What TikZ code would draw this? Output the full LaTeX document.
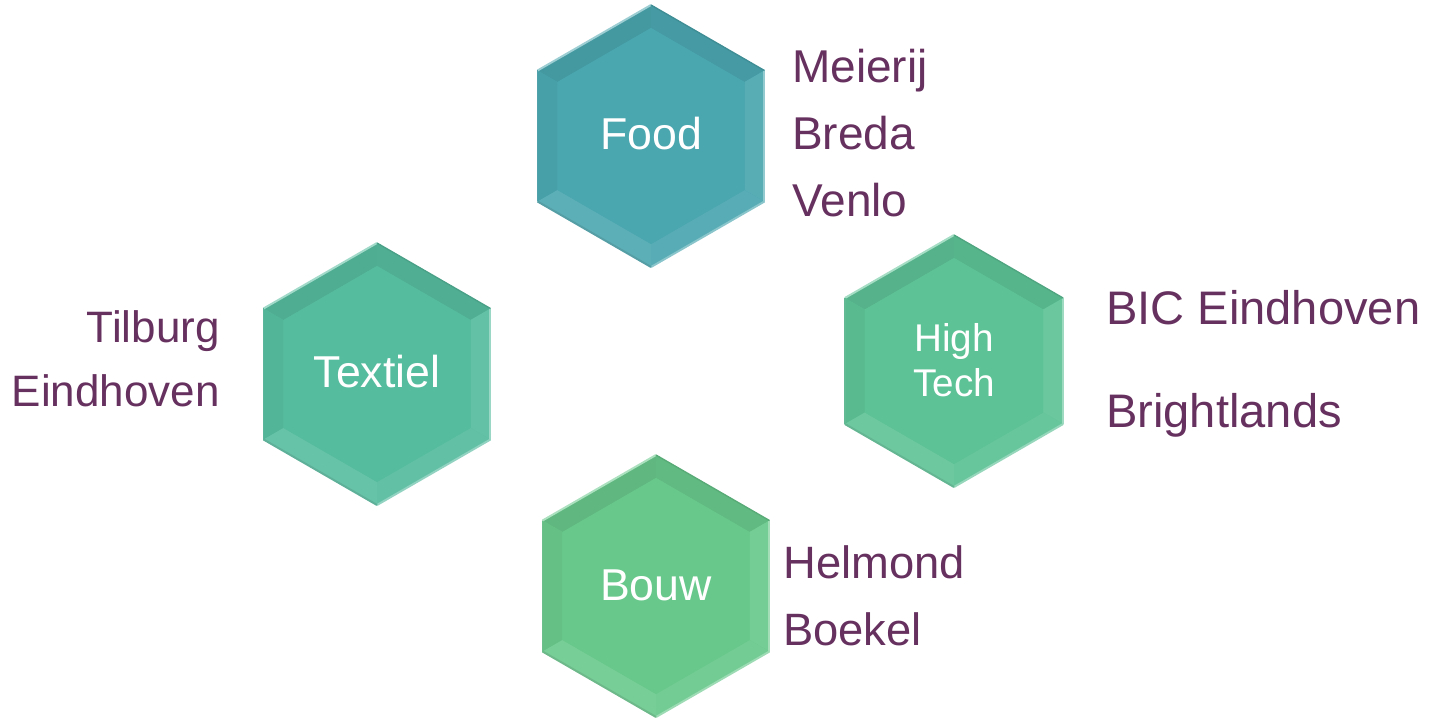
\documentclass[tikz,border=0pt]{standalone}
\usepackage{fontspec}
\setmainfont{Liberation Sans}
\definecolor{lab}{HTML}{66305F}
\definecolor{cfood}{HTML}{4AA6AF}
\definecolor{ctex}{HTML}{56BC9E}
\definecolor{chigh}{HTML}{5DC296}
\definecolor{cbouw}{HTML}{68C88B}
\tikzset{
  place/.style={anchor=base west,inner sep=0pt,text=lab,font=\fontsize{33}{40}\selectfont},
  placer/.style={place,anchor=base east},
  hexlabel/.style={anchor=base,inner sep=0pt,text=white,font=\fontsize{33.5}{40}\selectfont},
}
\newcommand\hexcell[4]{% x, y, R, colour
  \begin{scope}[shift={(#1,#2)}]
    \pgfmathsetmacro\ri{#3-23}
    \fill[#4] (90:#3)--(150:#3)--(210:#3)--(270:#3)--(330:#3)--(30:#3)--cycle;
    \fill[#4!92!black] (90:#3)--(150:#3)--(150:\ri)--(90:\ri)--cycle;
    \fill[#4!93!black] (30:#3)--(90:#3)--(90:\ri)--(30:\ri)--cycle;
    \fill[#4!96!black] (150:#3)--(210:#3)--(210:\ri)--(150:\ri)--cycle;
    \fill[#4!92!white] (330:#3)--(30:#3)--(30:\ri)--(330:\ri)--cycle;
    \fill[#4!90!white] (210:#3)--(270:#3)--(270:\ri)--(210:\ri)--cycle;
    \fill[#4!93!white] (270:#3)--(330:#3)--(330:\ri)--(270:\ri)--cycle;
    \fill[#4] (90:\ri)--(150:\ri)--(210:\ri)--(270:\ri)--(330:\ri)--(30:\ri)--cycle;
    \draw[#4!55!white,line width=1.5] (90:#3)--(150:#3);
    \draw[#4!60!white,line width=1.5] (330:#3)--(30:#3);
    \draw[#4!65!white,line width=1.5] (270:#3)--(330:#3);
    \draw[#4!80!gray,line width=1.5] (210:#3)--(270:#3);
    \draw[#4!85!black,line width=1] (30:#3)--(90:#3);
    \draw[#4!88!gray,line width=1] (150:#3)--(210:#3);
  \end{scope}
}
\begin{document}
\begin{tikzpicture}[x=0.75pt,y=0.75pt]
\useasboundingbox (0,0) rectangle (1437,718);
% hexagons
\hexcell{651}{582}{131}{cfood}
\hexcell{377}{344}{131}{ctex}
\hexcell{954}{357}{126}{chigh}
\hexcell{656}{132}{131}{cbouw}
\node[hexlabel] (food) at (651,568) {Food};
\node[hexlabel] (textiel) at (377,330) {Textiel};
\node[hexlabel,font=\fontsize{29}{34}\selectfont,align=center] (hightech) at (954,321) {High\\Tech};
\node[hexlabel] (bouw) at (656,118) {Bouw};
% labels
\node[place,font=\fontsize{34.5}{40}\selectfont] (meierij) at (792,635) {Meierij};
\node[place,font=\fontsize{34.5}{40}\selectfont] (breda) at (792,568) {Breda};
\node[place,font=\fontsize{34.5}{40}\selectfont] (venlo) at (792,501) {Venlo};
\node[placer] (tilburg) at (220,375) {Tilburg};
\node[placer] (eindhoven) at (220,311) {Eindhoven};
\node[place,font=\fontsize{35.3}{40}\selectfont] (bic) at (1106,393) {BIC Eindhoven};
\node[place,font=\fontsize{35.3}{40}\selectfont] (bright) at (1106,291) {Brightlands};
\node[place,font=\fontsize{34}{40}\selectfont] (helmond) at (783,140) {Helmond};
\node[place,font=\fontsize{34}{40}\selectfont] (boekel) at (783,73) {Boekel};
\end{tikzpicture}
\end{document}
